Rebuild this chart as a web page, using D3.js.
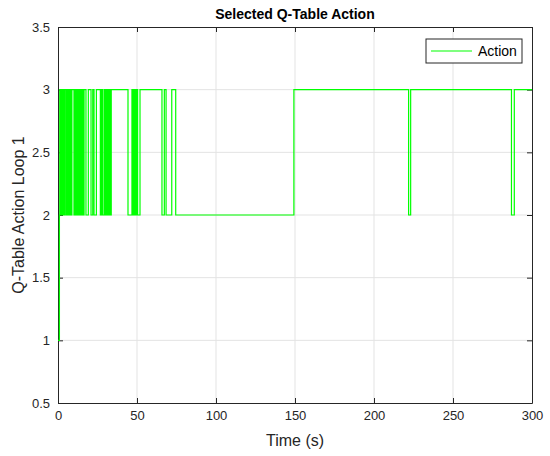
<!DOCTYPE html>
<html><head><meta charset="utf-8">
<script src="https://cdn.jsdelivr.net/npm/d3@7"></script>
<style>body{margin:0;background:#fff}svg{font-family:"Liberation Sans",Arial,Helvetica,sans-serif}</style>
</head><body><svg id="c" width="550" height="456"></svg>
<script>
// Step data: time (s) at which the action changes, and the new action value
const times = [0,0.9,1.1,1.3,1.7,2.0,2.2,2.6,2.9,3.3,3.6,3.9,4.3,5.1,5.4,5.8,6.0,6.4,6.7,7.1,7.3,7.7,8.0,8.4,8.8,
  10.1,10.4,10.7,11.1,11.3,11.7,12.0,12.4,12.6,13.0,13.3,13.7,14.0,14.4,14.8,15.1,15.8,16.5,17.7,19.2,20.9,22.0,22.8,24.3,
  26.8,27.2,27.6,28.0,28.5,29.5,29.8,30.2,30.6,30.9,31.3,31.7,32.0,32.4,32.8,33.1,33.4,33.7,
  44.3,46.8,47.3,47.8,48.4,49.0,49.6,50.0,50.4,51.9,65.8,67.3,68.4,72.0,74.5,149.3,221.9,223.2,287.0,288.8,300];
const actions = [1,2,3,2,3,2,3,2,3,2,3,2,3,2,3,2,3,2,3,2,3,2,3,2,3,
  2,3,2,3,2,3,2,3,2,3,2,3,2,3,2,3,2,3,2,3,2,3,2,3,
  2,3,2,3,2,3,2,3,2,3,2,3,2,3,2,3,2,3,
  2,3,2,3,2,3,2,3,2,3,2,3,2,3,2,3,2,3,2,3,3];
const xTicks = [0,50,100,150,200,250,300];
const yTicks = [0.5,1,1.5,2,2.5,3,3.5];
const title = "Selected Q-Table Action";
const xLabel = "Time (s)";
const yLabel = "Q-Table Action Loop 1";
const seriesName = "Action";

const svg = d3.select("#c");
const L=58,R=532,T=27,B=403;
const x = d3.scaleLinear().domain([0,300]).range([L,R]);
const y = d3.scaleLinear().domain([0.5,3.5]).range([B,T]);
const ax="#262626";

// grid
svg.append("g").selectAll("line").data(xTicks.slice(1,-1)).join("line")
  .attr("x1",d=>x(d)).attr("x2",d=>x(d)).attr("y1",T).attr("y2",B)
  .attr("stroke","#e3e3e3").attr("stroke-width",1);
svg.append("g").selectAll("line").data(yTicks.slice(1,-1)).join("line")
  .attr("y1",d=>y(d)).attr("y2",d=>y(d)).attr("x1",L).attr("x2",R)
  .attr("stroke","#e3e3e3").attr("stroke-width",1);

// axes
const fmt = d=>String(d);
const bx = svg.append("g").attr("transform",`translate(0,${B})`)
  .call(d3.axisBottom(x).tickValues(xTicks).tickFormat(fmt).tickSizeInner(-5).tickSizeOuter(0).tickPadding(8));
const tx = svg.append("g").attr("transform",`translate(0,${T})`)
  .call(d3.axisTop(x).tickValues(xTicks).tickFormat("").tickSizeInner(-5).tickSizeOuter(0));
const ly = svg.append("g").attr("transform",`translate(${L},0)`)
  .call(d3.axisLeft(y).tickValues(yTicks).tickFormat(fmt).tickSizeInner(-5).tickSizeOuter(0).tickPadding(8));
const ry = svg.append("g").attr("transform",`translate(${R},0)`)
  .call(d3.axisRight(y).tickValues(yTicks).tickFormat("").tickSizeInner(-5).tickSizeOuter(0));
[bx,tx,ly,ry].forEach(g=>{
  g.select(".domain").attr("stroke",ax);
  g.selectAll(".tick line").attr("stroke",ax);
  g.selectAll("text").attr("fill","#262626").attr("font-size",13).attr("font-family","Liberation Sans, Arial, sans-serif");
});

// data (drawn above the axes)
const pts = times.map((t,i)=>[t,actions[i]]);
const line = d3.line().x(d=>x(d[0])).y(d=>y(d[1])).curve(d3.curveStepAfter);
svg.append("path").datum(pts).attr("d",line).attr("fill","none")
  .attr("stroke","#00ff00").attr("stroke-width",1.2);

// titles
svg.append("text").attr("x",(L+R)/2).attr("y",19).attr("text-anchor","middle")
  .attr("font-weight","bold").attr("font-size",14).attr("fill","#000").text(title);
svg.append("text").attr("x",(L+R)/2).attr("y",446).attr("text-anchor","middle")
  .attr("font-size",16).attr("fill","#262626").text(xLabel);
svg.append("text").attr("transform",`translate(24,${(T+B)/2}) rotate(-90)`).attr("text-anchor","middle")
  .attr("font-size",16).attr("fill","#262626").text(yLabel);

// legend
const lg = svg.append("g");
lg.append("rect").attr("x",426).attr("y",39).attr("width",96).attr("height",24)
  .attr("fill","#fff").attr("stroke","#262626").attr("stroke-width",1);
lg.append("line").attr("x1",431).attr("x2",472).attr("y1",51).attr("y2",51)
  .attr("stroke","#00ff00").attr("stroke-width",1.2);
lg.append("text").attr("x",478).attr("y",56).attr("font-size",14).attr("fill","#000").text(seriesName);
</script></body></html>
